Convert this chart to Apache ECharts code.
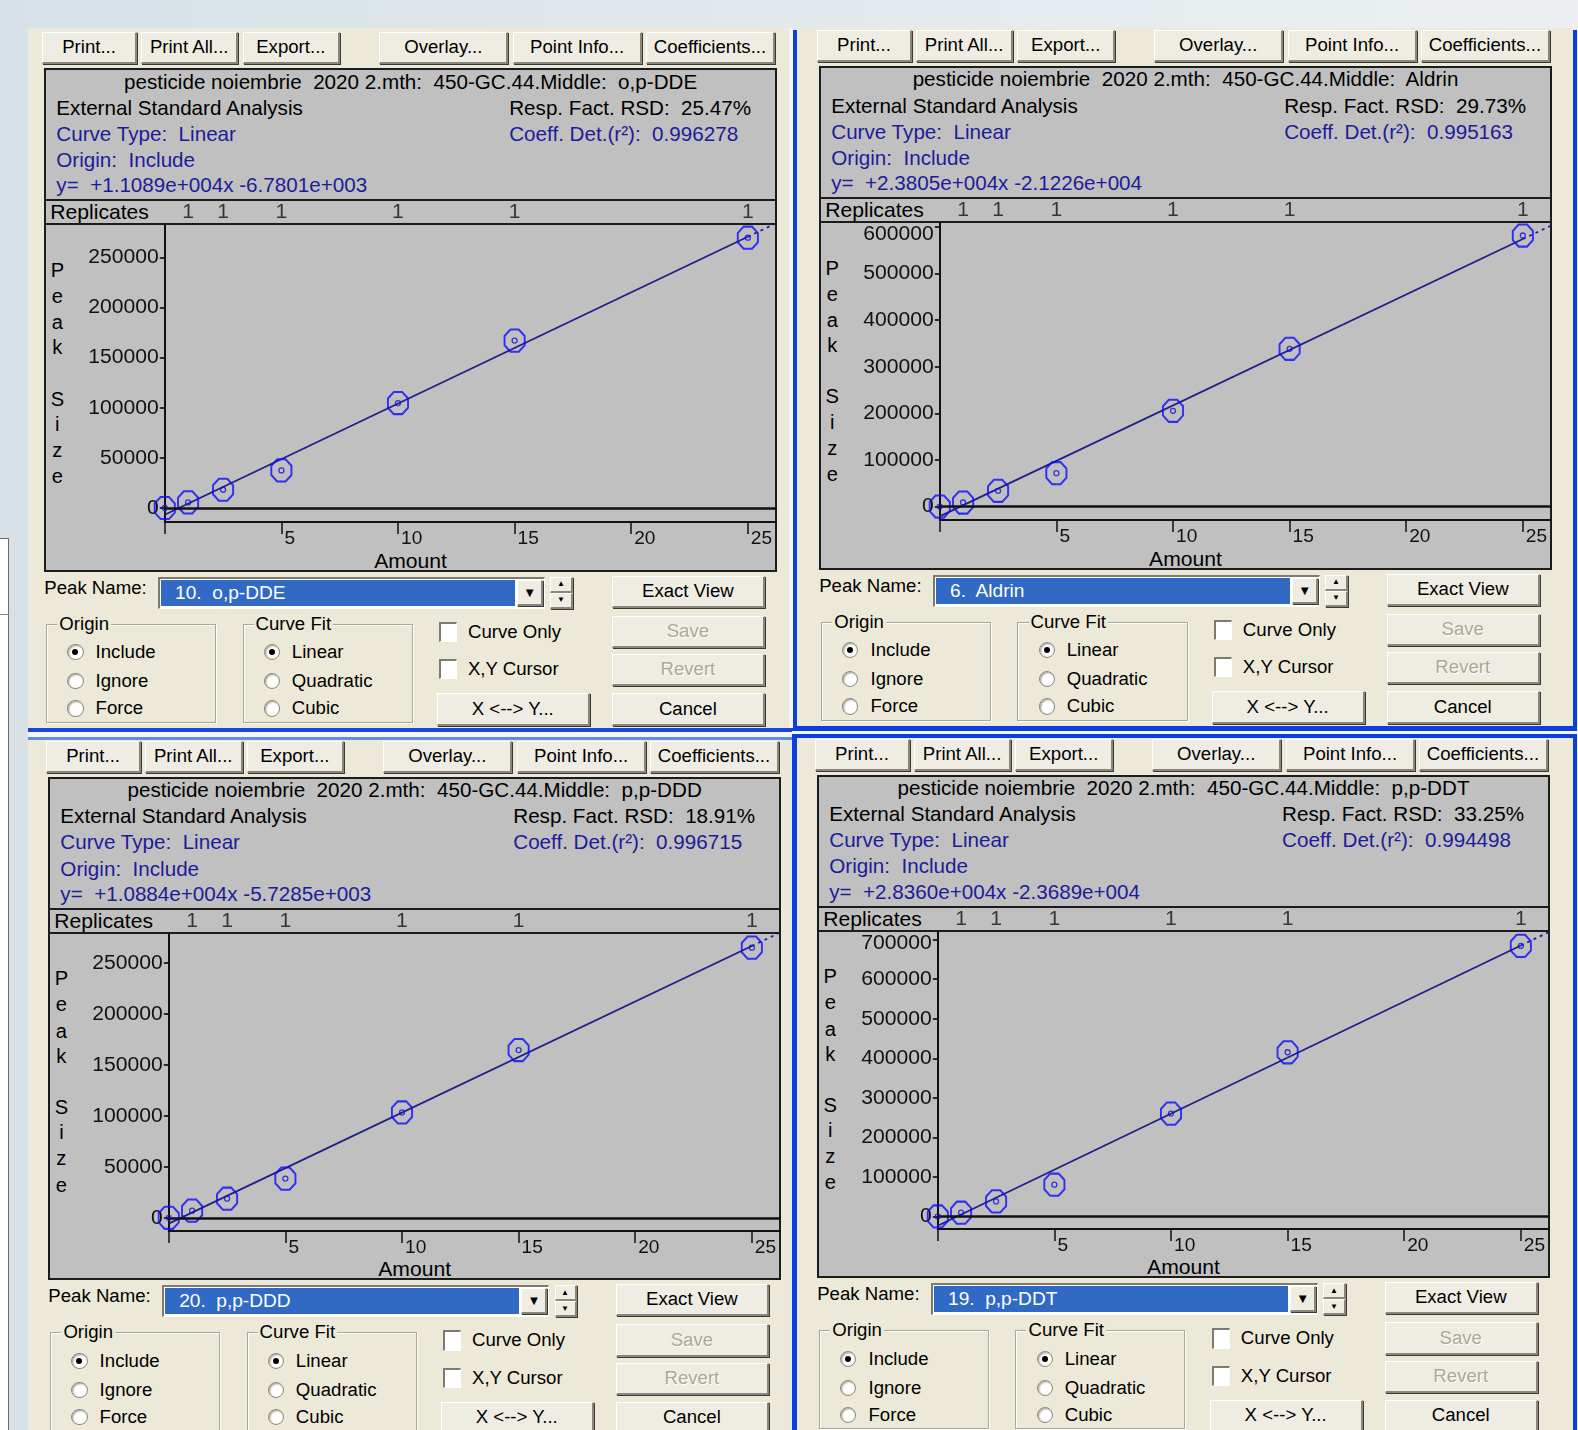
<!DOCTYPE html>
<html>
<head>
<meta charset="utf-8">
<script src="https://cdn.jsdelivr.net/npm/echarts@6/dist/echarts.min.js"></script>
<style>
  html, body { margin: 0; padding: 0; }
  body {
    width: 1578px; height: 1430px; overflow: hidden; position: relative;
    background: linear-gradient(90deg, #d7e1e7 0%, #e2e9ed 50%, #ecf0f2 100%);
    font-family: 'Liberation Sans', Arial, Helvetica, sans-serif;
  }
  .abs { position: absolute; box-sizing: border-box; }
  .txt { position: absolute; white-space: pre; line-height: 1; color: #000; }
  .btn {
    position: absolute; box-sizing: border-box; background: #efede3;
    border-top: 1px solid #ffffff; border-left: 1px solid #ffffff;
    border-right: 2px solid #8a877a; border-bottom: 2px solid #8a877a;
    box-shadow: 1px 1px 0 #3a3a3a;
    display: flex; align-items: center; justify-content: center;
    white-space: pre; color: #000; line-height: 1;
  }
  .btn.off { color: #aca899; text-shadow: 1px 1px 0 #ffffff; }
  .panelbox { background: #c0c0c0; border: 2px solid #1c1c1c; }
  .sunken {
    background: #ffffff;
    border-top: 2px solid #7d7b70; border-left: 2px solid #7d7b70;
    border-right: 1px solid #ffffff; border-bottom: 1px solid #ffffff;
  }
  .group { border: 1px solid #a9a796; box-shadow: 1px 1px 0 #ffffff, inset 1px 1px 0 #ffffff; }
  .radio {
    border-radius: 50%; background: #ffffff; border: 1px solid #8d8a7c;
    box-shadow: inset 1px 1px 2px #9c998a;
  }
  .dot {
    position: absolute; left: 50%; top: 50%; width: 6px; height: 6px;
    margin: -3px 0 0 -3px; border-radius: 50%; background: #000;
  }
</style>
</head>
<body>
<script>
// ---------------- calibration data ----------------
const compounds = ['o,p-DDE', 'Aldrin', 'p,p-DDD', 'p,p-DDT'];
const peakNames = ['10.  o,p-DDE', '6.  Aldrin', '20.  p,p-DDD', '19.  p,p-DDT'];
const methodTitle = 'pesticide noiembrie  2020 2.mth:  450-GC.44.Middle:  ';
const rsdValues = ['25.47%', '29.73%', '18.91%', '33.25%'];
const coeffDet = ['0.996278', '0.995163', '0.996715', '0.994498'];
const slopeText = ['+1.1089e+004', '+2.3805e+004', '+1.0884e+004', '+2.8360e+004'];
const interceptText = ['-6.7801e+003', '-2.1226e+004', '-5.7285e+003', '-2.3689e+004'];

// calibration levels (Amount) and measured peak sizes
const amounts = [0, 1, 2.5, 5, 10, 15, 25];
const peakOpDDE = [0, 5600, 18200, 37500, 104600, 166900, 269500];
const peakAldrin = [0, 8600, 33700, 71600, 205400, 338400, 581500];
const peakPpDDD = [0, 7000, 18700, 38400, 103300, 164400, 264800];
const peakPpDDT = [0, 9300, 38000, 80300, 260000, 415200, 684300];
const peakSeries = [peakOpDDE, peakAldrin, peakPpDDD, peakPpDDT];

// replicate counts per level
const replicateAmounts = [1, 2.5, 5, 10, 15, 25];
const replicateCounts = [1, 1, 1, 1, 1, 1];

// axis ticks and extents
const xTicks = [0, 5, 10, 15, 20, 25];
const xTickLabels = [5, 10, 15, 20, 25];
const xExtent = [0, 26.25];
const yTicksOpDDE = [0, 50000, 100000, 150000, 200000, 250000];
const yTicksAldrin = [0, 100000, 200000, 300000, 400000, 500000, 600000];
const yTicksPpDDD = [0, 50000, 100000, 150000, 200000, 250000];
const yTicksPpDDT = [0, 100000, 200000, 300000, 400000, 500000, 600000, 700000];
const yTickSets = [yTicksOpDDE, yTicksAldrin, yTicksPpDDD, yTicksPpDDT];
const yExtents = [[-14000, 282000], [-29000, 608000], [-13000, 278000], [-32000, 719000]];

const toolbarButtons = ['Print...', 'Print All...', 'Export...', 'Overlay...', 'Point Info...', 'Coefficients...'];

// ---------------- layout helpers ----------------
const S = 1578 / 1568;
const u = v => (v * S) + 'px';
const NAVY = '#1c1c98';
const FONT = "'Liberation Sans', Arial, Helvetica, sans-serif";

function boxF(x, y, w, h, style) {
  const d = document.createElement('div');
  d.className = 'abs';
  Object.assign(d.style, { left: x + 'px', top: y + 'px', width: w + 'px', height: h + 'px' }, style || {});
  document.body.appendChild(d);
  return d;
}
function box(parent, x, y, w, h, cls, style) {
  const d = document.createElement('div');
  d.className = 'abs ' + (cls || '');
  Object.assign(d.style, { left: u(x), top: u(y), width: u(w), height: u(h) }, style || {});
  parent.appendChild(d);
  return d;
}
function label(parent, str, x, cy, size, color, anchor) {
  const d = document.createElement('div');
  d.className = 'txt';
  d.textContent = str;
  d.style.left = u(x);
  d.style.top = u(cy);
  d.style.fontSize = u(size);
  d.style.color = color || '#000';
  d.style.transform = anchor === 'center' ? 'translate(-50%,-50%)' : 'translateY(-50%)';
  parent.appendChild(d);
  return d;
}
function button(parent, str, x, y, w, h, disabled, size) {
  const d = document.createElement('div');
  d.className = 'btn' + (disabled ? ' off' : '');
  Object.assign(d.style, { left: u(x), top: u(y), width: u(w), height: u(h), fontSize: u(size || 18.5) });
  d.textContent = str;
  parent.appendChild(d);
  return d;
}
function radio(parent, cx, cy, on) {
  const r = box(parent, cx - 8, cy - 8, 16, 16, 'radio');
  if (on) { const d = document.createElement('div'); d.className = 'dot'; r.appendChild(d); }
}
function checkbox(parent, str, x, cy) {
  box(parent, x, cy - 10, 18, 20, 'sunken');
  label(parent, str, x + 29, cy, 18.5);
}
function group(parent, title, x, y, w, h, items, selected) {
  box(parent, x, y, w, h, 'group');
  const t = label(parent, title, x + 11, y, 18.5);
  t.style.background = '#ece9d8';
  t.style.padding = '0 2px';
  const rows = [28, 57, 84];
  items.forEach((it, k) => {
    radio(parent, x + 29, y + rows[k], k === selected);
    label(parent, it, x + 49, y + rows[k], 18.5);
  });
}

// ---------------- window frames ----------------
// partly hidden window on the far left
boxF(0, 538, 9, 892, { background: '#ffffff', borderTop: '1px solid #6c6c6c', borderRight: '1px solid #6c6c6c' });
boxF(0, 614, 9, 1, { background: '#8a8a8a' });
// dialog faces
boxF(28, 28, 761, 700, { background: '#ece9d8' });
boxF(797, 28, 776, 698, { background: '#ece9d8' });
boxF(28, 740, 761, 690, { background: '#ece9d8' });
boxF(797, 738, 776, 692, { background: '#ece9d8' });
// separators and active frames
boxF(789, 28, 4, 703, { background: '#f3f5f8' });
boxF(28, 728, 765, 4, { background: '#1846d6' });
boxF(28, 732, 765, 5, { background: '#f3f5f9' });
boxF(28, 737, 765, 3, { background: '#5d8de6' });
boxF(793, 30, 4, 701, { background: '#0b40dc' });
boxF(1573, 30, 4, 701, { background: '#0b40dc' });
boxF(793, 726, 784, 5, { background: '#0b40dc' });
boxF(792, 731, 785, 3, { background: '#f3f5f9' });
boxF(792, 734, 785, 4, { background: '#0b40dc' });
boxF(792, 734, 5, 696, { background: '#0b40dc' });
boxF(1573, 734, 4, 696, { background: '#0b40dc' });

// ---------------- plot options ----------------
const octagon = 'path://M7,0 L17,0 L24,7 L24,17 L17,24 L7,24 L0,17 L0,7 Z';

function plotOption(i) {
  const pts = peakSeries[i];
  const m = Number(slopeText[i]);
  const b = Number(interceptText[i]);
  const yT = yTickSets[i];
  const [ymin, ymax] = yExtents[i];
  const gridTop = 26 * S, gridH = 295 * S;
  // keep the highest tick label inside the plot box
  const topTick = yT[yT.length - 1];
  const dist = (ymax - topTick) / (ymax - ymin) * gridH;
  const shift = Math.max(0, 11 - dist);
  const axisFont = 21 * S;
  const pointData = amounts.map((a, k) => [a, pts[k]]);
  return {
    animation: false,
    textStyle: { fontFamily: FONT },
    grid: [
      { left: 120 * S, right: 0, top: gridTop, height: gridH },
      { left: 120 * S, right: 0, top: 2 * S, height: 22 * S }
    ],
    xAxis: [
      {
        type: 'value', gridIndex: 0, min: xExtent[0], max: xExtent[1], position: 'bottom',
        axisLine: { show: true, onZero: false, lineStyle: { color: '#111', width: 2 } },
        axisTick: { show: true, inside: false, length: 12 * S, customValues: xTicks, lineStyle: { color: '#111', width: 1.5 } },
        axisLabel: { customValues: xTickLabels, fontSize: 19 * S, color: '#111', align: 'left', margin: 7, padding: [0, 0, 0, 3] },
        splitLine: { show: false }
      },
      { type: 'value', gridIndex: 1, min: xExtent[0], max: xExtent[1], show: false }
    ],
    yAxis: [
      {
        type: 'value', gridIndex: 0, min: ymin, max: ymax, position: 'left',
        axisLine: { show: true, onZero: false, lineStyle: { color: '#111', width: 2 } },
        axisTick: { show: true, length: 5, customValues: yT, lineStyle: { color: '#111', width: 1.5 } },
        axisLabel: {
          customValues: yT, fontSize: axisFont, color: '#111', margin: 6,
          formatter: v => (v === topTick && shift > 0) ? '{t|' + v + '}' : String(v),
          rich: { t: { fontSize: axisFont, color: '#111', fontFamily: FONT, padding: [2 * shift, 0, 0, 0] } }
        },
        splitLine: { show: false }
      },
      {
        type: 'value', gridIndex: 0, min: ymin, max: ymax, position: 'right',
        axisLine: { show: false },
        axisTick: { show: true, inside: true, length: 4, customValues: yT, lineStyle: { color: '#222', width: 1.5 } },
        axisLabel: { show: false },
        splitLine: { show: false }
      },
      { type: 'value', gridIndex: 1, min: 0, max: 1, show: false }
    ],
    series: [
      {
        // fitted calibration line
        type: 'line', xAxisIndex: 0, yAxisIndex: 0,
        data: [[0, b], [25, 25 * m + b]],
        symbol: 'none', silent: true,
        lineStyle: { color: '#1f1f86', width: 1.8 },
        markLine: {
          silent: true, symbol: 'none', label: { show: false },
          lineStyle: { color: '#111', width: 2.5, type: 'solid' },
          data: [{ yAxis: 0 }]
        },
        z: 2
      },
      {
        // extrapolated part of the fit
        type: 'line', xAxisIndex: 0, yAxisIndex: 0,
        data: [[25, 25 * m + b], [xExtent[1], xExtent[1] * m + b]],
        symbol: 'none', silent: true,
        lineStyle: { color: '#1f1f86', width: 1.8, type: [3, 4] },
        z: 2
      },
      {
        // calibration points
        type: 'scatter', xAxisIndex: 0, yAxisIndex: 0, data: pointData,
        symbol: octagon, symbolSize: [20 * S, 22 * S], clip: false,
        itemStyle: { color: 'rgba(0,0,0,0)', borderColor: '#0b0bff', borderWidth: 2 },
        z: 4
      },
      {
        type: 'scatter', xAxisIndex: 0, yAxisIndex: 0, data: pointData,
        symbol: 'circle', symbolSize: 5, clip: false,
        itemStyle: { color: 'rgba(0,0,0,0)', borderColor: '#1010e0', borderWidth: 1.3 },
        z: 5
      },
      {
        // replicate counts row
        type: 'scatter', xAxisIndex: 1, yAxisIndex: 2,
        data: replicateAmounts.map(a => [a, 0.5]),
        symbolSize: 1, itemStyle: { color: 'rgba(0,0,0,0)' },
        label: {
          show: true, position: 'inside', fontSize: axisFont, color: '#111',
          formatter: p => String(replicateCounts[p.dataIndex])
        }
      }
    ]
  };
}

// ---------------- dialog panels ----------------
const panelOrigins = [[44, 68], [814, 66], [48, 772], [812, 770]];
const peakSizeLetters = ['P', 'e', 'a', 'k', 'S', 'i', 'z', 'e'];
const peakSizeRows = [200, 226, 252, 277, 328, 353, 379, 405];

function buildPanel(i) {
  const [ox, oy] = panelOrigins[i];
  const p = document.createElement('div');
  p.className = 'abs';
  p.style.left = u(ox);
  p.style.top = u(oy);
  document.body.appendChild(p);

  const btnSpec = [[-2, 94], [96, 97], [197, 97], [333, 128], [466, 128], [598, 128]];
  toolbarButtons.forEach((t, k) => button(p, t, btnSpec[k][0], -36, btnSpec[k][1], 32));

  box(p, 0, 0, 728, 132, 'panelbox');
  box(p, 0, 130, 728, 26, 'panelbox');
  box(p, 0, 154, 728, 346, 'panelbox');

  label(p, methodTitle + compounds[i], 364, 13, 20.5, '#000', 'center');
  label(p, 'External Standard Analysis', 12, 39, 20.5);
  label(p, 'Resp. Fact. RSD:  ' + rsdValues[i], 462, 39, 20.5);
  label(p, 'Curve Type:  Linear', 12, 65, 20.5, NAVY);
  label(p, 'Coeff. Det.(r\u00b2):  ' + coeffDet[i], 462, 65, 20.5, NAVY);
  label(p, 'Origin:  Include', 12, 91, 20.5, NAVY);
  label(p, 'y=  ' + slopeText[i] + 'x ' + interceptText[i], 12, 116, 20.5, NAVY);
  label(p, 'Replicates', 6, 143, 21);

  peakSizeLetters.forEach((ch, k) => label(p, ch, 13, peakSizeRows[k], 20, '#000', 'center'));
  label(p, 'Amount', 364, 489, 21, '#000', 'center');

  const c = box(p, 0, 130, 728, 370, '');
  const chart = echarts.init(c, null, { renderer: 'canvas' });
  chart.setOption(plotOption(i));

  // controls under the plot
  label(p, 'Peak Name:', 0, 516, 18.5);
  box(p, 113, 505, 385, 32, 'sunken');
  box(p, 116, 508, 352, 26, '', { background: '#316ac5' });
  label(p, peakNames[i], 130, 521, 19, '#ffffff');
  button(p, '\u25BC', 470, 508, 26, 26, false, 13);
  button(p, '\u25B2', 503, 505, 22, 16, false, 8);
  button(p, '\u25BC', 503, 521, 22, 16, false, 8);

  button(p, 'Exact View', 564, 504, 152, 32);
  button(p, 'Save', 564, 544, 152, 32, true);
  button(p, 'Revert', 564, 582, 152, 32, true);
  button(p, 'Cancel', 564, 621, 152, 32);
  button(p, 'X <--> Y...', 390, 621, 152, 32);

  group(p, 'Origin', 2, 552, 169, 98, ['Include', 'Ignore', 'Force'], 0);
  group(p, 'Curve Fit', 197, 552, 169, 98, ['Linear', 'Quadratic', 'Cubic'], 0);
  checkbox(p, 'Curve Only', 392, 560);
  checkbox(p, 'X,Y Cursor', 392, 597);
}

[0, 1, 2, 3].forEach(buildPanel);
</script>
</body>
</html>
